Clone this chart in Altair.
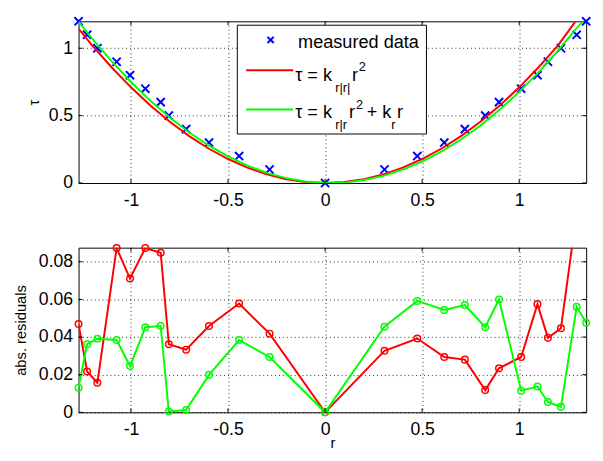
import altair as alt
import pandas as pd

# ---- data ----
r_meas = [-1.27, -1.226, -1.173, -1.074, -1.005, -0.926, -0.847, -0.805, -0.716,
          -0.598, -0.443, -0.286, 0.0, 0.306, 0.475, 0.614, 0.72, 0.825, 0.896,
          1.01, 1.094, 1.148, 1.215, 1.296, 1.345]
tau_meas = [1.2, 1.1, 1.0, 0.9, 0.8, 0.7, 0.6, 0.5, 0.4, 0.3, 0.2, 0.1, 0.0,
            0.1, 0.2, 0.3, 0.4, 0.5, 0.6, 0.7, 0.8, 0.9, 1.0, 1.1, 1.2]

res_quad = [0.0469, 0.0217, 0.0157, 0.0873, 0.0711, 0.0873, 0.0848, 0.0362, 0.0333,
            0.0459, 0.0578, 0.0418, 0.0, 0.0327, 0.0392, 0.0294, 0.028, 0.0118,
            0.0234, 0.0294, 0.0575, 0.0396, 0.0447, 0.106, 0.100]
res_lin = [0.0131, 0.0362, 0.0391, 0.0384, 0.0246, 0.0452, 0.0459, 0.0004, 0.0012,
           0.0199, 0.0384, 0.0294, 0.0, 0.0455, 0.0592, 0.0544, 0.057, 0.0452,
           0.060, 0.0115, 0.0137, 0.0055, 0.0029, 0.0561, 0.0476]

# fitted curves, read up to where they leave the axes
r_fit_quad = [-1.27, -1.2, -1.1, -1.0, -0.9, -0.8, -0.7, -0.6, -0.5, -0.4, -0.3, -0.2,
              -0.1, 0.0, 0.1, 0.2, 0.3, 0.4, 0.5, 0.6, 0.7, 0.8, 0.9, 1.0, 1.1, 1.2,
              1.29]
tau_fit_quad = [1.145, 1.022, 0.859, 0.710, 0.575, 0.454, 0.348, 0.256, 0.178, 0.114,
                0.064, 0.028, 0.007, 0.0, 0.007, 0.028, 0.064, 0.114, 0.178, 0.256,
                0.348, 0.454, 0.575, 0.710, 0.859, 1.022, 1.200]
r_fit_lin = [-1.27, -1.2, -1.1, -1.0, -0.9, -0.8, -0.7, -0.6, -0.5, -0.4, -0.3, -0.2,
             -0.1, 0.0, 0.1, 0.2, 0.3, 0.4, 0.5, 0.6, 0.7, 0.8, 0.9, 1.0, 1.1, 1.2,
             1.3, 1.33]
tau_fit_lin = [1.197, 1.071, 0.904, 0.750, 0.611, 0.486, 0.375, 0.279, 0.197, 0.129,
               0.075, 0.036, 0.011, 0.0, 0.003, 0.022, 0.053, 0.099, 0.159, 0.235,
               0.323, 0.426, 0.545, 0.676, 0.822, 0.983, 1.157, 1.200]

x_ticks = [-1, -0.5, 0, 0.5, 1]
tau_ticks = [0, 0.5, 1]
res_ticks = [0, 0.02, 0.04, 0.06, 0.08]

RED = "#FF0000"
GREEN = "#00FF00"
BLUE = "#0000FF"
FONT = "Liberation Sans"
W = 518
H1, H2 = 165, 168
GAP = 66
X_DOMAIN = [-1.27, 1.345]
TL = 4  # inward tick length

meas = pd.DataFrame({"r": r_meas, "tau": tau_meas, "rq": res_quad, "rl": res_lin})
fitq = pd.DataFrame({"r": r_fit_quad, "v": tau_fit_quad})
fitl = pd.DataFrame({"r": r_fit_lin, "v": tau_fit_lin})
xt = pd.DataFrame({"t": x_ticks})
yt_top = pd.DataFrame({"t": tau_ticks})
yt_bot = pd.DataFrame({"t": res_ticks})
dummy = alt.Data(values=[{"a": 1}])

lab = "datum.value < 0 ? '-' + format(-datum.value, '~g') : format(datum.value, '~g')"

xscale = alt.Scale(domain=X_DOMAIN, nice=False, zero=False)
y_top_scale = alt.Scale(domain=[0, 1.2], nice=False)
y_bot_scale = alt.Scale(domain=[0, 0.0875], nice=False)

ax_x_top = alt.Axis(values=x_ticks, labelExpr=lab, title=None)
ax_x_bot = alt.Axis(values=x_ticks, labelExpr=lab, title="r",
                    titleY=36, titleBaseline="alphabetic")
ax_y_top = alt.Axis(values=tau_ticks, labelExpr=lab, title="τ",
                    titleX=-41, titleBaseline="alphabetic")
ax_y_bot = alt.Axis(values=res_ticks, labelExpr=lab, title="abs. residuals",
                    titleX=-54, titleBaseline="alphabetic")


def inward_ticks(xax, yscale, yax, ydf, h):
    xs = alt.X("t:Q", scale=xscale, axis=xax)
    ys = alt.Y("t:Q", scale=yscale, axis=yax)
    tb = alt.Chart(xt).mark_rule(color="black", strokeWidth=1).encode(
        x=xs, y=alt.value(h), y2=alt.value(h - TL))
    tt = alt.Chart(xt).mark_rule(color="black", strokeWidth=1).encode(
        x=xs, y=alt.value(0), y2=alt.value(TL))
    tl = alt.Chart(ydf).mark_rule(color="black", strokeWidth=1).encode(
        y=ys, x=alt.value(0), x2=alt.value(TL))
    tr = alt.Chart(ydf).mark_rule(color="black", strokeWidth=1).encode(
        y=ys, x=alt.value(W - TL), x2=alt.value(W))
    return [tb, tt, tl, tr]


XSHAPE = "M-1,-1L1,1M-1,1L1,-1"

# ---- top panel ----
pts = alt.Chart(meas).mark_point(shape=XSHAPE, size=70, strokeWidth=2,
                                 color=BLUE, filled=False, opacity=1).encode(
    x=alt.X("r:Q", scale=xscale, axis=ax_x_top),
    y=alt.Y("tau:Q", scale=y_top_scale, axis=ax_y_top),
)
fq = alt.Chart(fitq).mark_line(color=RED, strokeWidth=2, clip=True).encode(
    x=alt.X("r:Q", scale=xscale, axis=ax_x_top),
    y=alt.Y("v:Q", scale=y_top_scale, axis=ax_y_top))
fl = alt.Chart(fitl).mark_line(color=GREEN, strokeWidth=2, clip=True).encode(
    x=alt.X("r:Q", scale=xscale, axis=ax_x_top),
    y=alt.Y("v:Q", scale=y_top_scale, axis=ax_y_top))

# legend (decoration)
box = alt.Chart(dummy).mark_rect(fill="white", stroke="black", strokeWidth=1).encode(
    x=alt.value(162), x2=alt.value(355), y=alt.value(4), y2=alt.value(115))
leg_x = alt.Chart(dummy).mark_point(shape=XSHAPE, size=40, strokeWidth=2, color=BLUE,
                                   filled=False, opacity=1).encode(
    x=alt.value(196), y=alt.value(19))
leg_r = alt.Chart(dummy).mark_rule(color=RED, strokeWidth=2).encode(
    x=alt.value(171), x2=alt.value(219), y=alt.value(50))
leg_g = alt.Chart(dummy).mark_rule(color=GREEN, strokeWidth=2).encode(
    x=alt.value(171), x2=alt.value(219), y=alt.value(90))


def txt(s, x, y, size=18.5):
    return alt.Chart(dummy).mark_text(text=s, align="left", baseline="alphabetic",
                                      font=FONT, fontSize=size, color="black").encode(
        x=alt.value(x), y=alt.value(y))


texts = [
    txt("measured data", 224, 27),
    txt("τ = k", 221, 61), txt("r|r|", 262, 72, 13), txt("r", 279, 61), txt("2", 286, 51, 13),
    txt("τ = k", 221, 99), txt("r|r", 262, 110, 13), txt("r", 276, 99), txt("2", 283, 89, 13),
    txt("+ k", 294, 99), txt("r", 319, 110, 13), txt("r", 325, 99),
]

top = alt.layer(pts, fq, fl, *inward_ticks(ax_x_top, y_top_scale, ax_y_top, yt_top, H1),
                box, leg_x, leg_r, leg_g, *texts).properties(width=W, height=H1)

# ---- bottom panel ----
xb = alt.X("r:Q", scale=xscale, axis=ax_x_bot)
lq = alt.Chart(meas).mark_line(color=RED, strokeWidth=2, clip=True).encode(
    x=xb, y=alt.Y("rq:Q", scale=y_bot_scale, axis=ax_y_bot))
pq = alt.Chart(meas).transform_filter("datum.rq <= 0.0875").mark_point(
    color=RED, size=45, strokeWidth=1.5, filled=False, opacity=1).encode(
    x=xb, y=alt.Y("rq:Q", scale=y_bot_scale, axis=ax_y_bot))
ll = alt.Chart(meas).mark_line(color=GREEN, strokeWidth=2, clip=True).encode(
    x=xb, y=alt.Y("rl:Q", scale=y_bot_scale, axis=ax_y_bot))
pl = alt.Chart(meas).mark_point(color=GREEN, size=45, strokeWidth=1.5, filled=False,
                                opacity=1).encode(
    x=xb, y=alt.Y("rl:Q", scale=y_bot_scale, axis=ax_y_bot))

bottom = alt.layer(lq, pq, ll, pl,
                   *inward_ticks(ax_x_bot, y_bot_scale, ax_y_bot, yt_bot, H2)
                   ).properties(width=W, height=H2)

chart = alt.vconcat(top, bottom, spacing=GAP, bounds="flush").properties(
    padding={"left": 5, "top": 0, "right": 0, "bottom": 0},
    background="white",
).configure_axis(
    labelFont=FONT, labelFontSize=18, labelColor="black", labelPadding=6,
    titleFont=FONT, titleFontSize=15, titleFontWeight="normal", titleColor="black",
    grid=True, gridColor="black", gridDash=[1, 3], gridOpacity=0.85,
    ticks=False, domain=False,
).configure_axisX(labelPadding=9).configure_view(stroke="black", strokeWidth=1)

chart.save("out.html", embed_options={"renderer": "svg", "actions": False})
